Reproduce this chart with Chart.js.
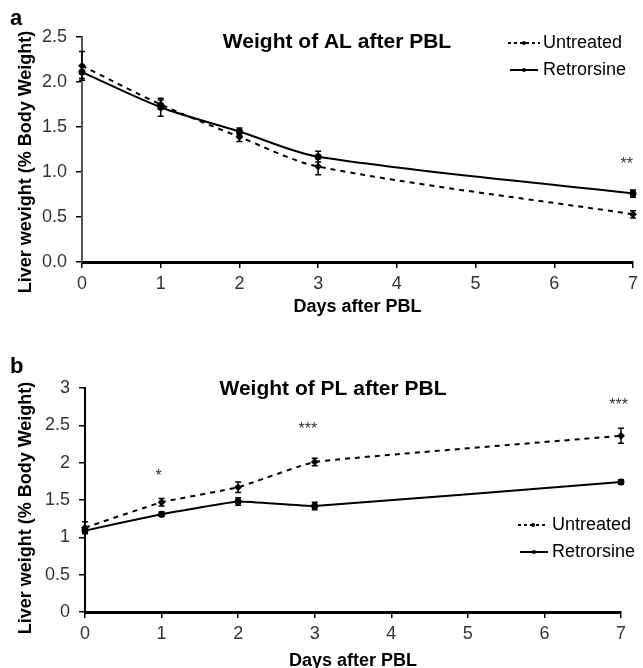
<!DOCTYPE html>
<html>
<head>
<meta charset="utf-8">
<script src="https://cdn.jsdelivr.net/npm/chart.js@4"></script>
<style>
  html, body { margin: 0; padding: 0; background: #fff; overflow: hidden; }
  #wrap { position: relative; width: 643px; height: 668px; }
  canvas { position: absolute; left: 0; }
  #chartA { top: 0; }
  #chartB { top: 320px; }
</style>
</head>
<body>
<div id="wrap">
  <canvas id="chartA" width="643" height="325"></canvas>
  <canvas id="chartB" width="643" height="360"></canvas>
</div>
<script>
// days after partial bile ligation
var days = [0, 1, 2, 3, 7];

// panel a: weight of AL
var alUntreated = [2.18, 1.75, 1.39, 1.06, 0.53];
var alUntreatedErr = [0.16, 0.05, 0.05, 0.09, 0.04];
var alRetrorsine = [2.11, 1.72, 1.45, 1.17, 0.76];
var alRetrorsineErr = [0.07, 0.1, 0.04, 0.06, 0.04];
var alStarDays = [6.92];
var alStarValues = [1.12];
var alStarText = ["**"];
var alYTicks = ["0.0", "0.5", "1.0", "1.5", "2.0", "2.5"];

// panel b: weight of PL
var plUntreated = [1.13, 1.47, 1.67, 2.01, 2.36];
var plUntreatedErr = [0.08, 0.05, 0.07, 0.05, 0.1];
var plRetrorsine = [1.09, 1.31, 1.48, 1.42, 1.74];
var plRetrorsineErr = [0.04, 0.03, 0.05, 0.05, 0.03];
var plStarDays = [0.96, 2.91, 6.97];
var plStarValues = [1.85, 2.48, 2.81];
var plStarText = ["*", "***", "***"];
var plYTicks = ["0", "0.5", "1", "1.5", "2", "2.5", "3"];

var FONT = "'Liberation Sans', Arial, sans-serif";

function points(ys) {
  return days.map(function (d, i) { return { x: d, y: ys[i] }; });
}

// error bars, stars, title, legend, panel letter, y title
var decorPlugin = {
  id: "decor",
  afterDatasetsDraw: function (chart) {
    var o = chart.options.plugins.decor;
    var ctx = chart.ctx;
    var xs = chart.scales.x, ys = chart.scales.y;
    ctx.save();
    ctx.strokeStyle = "#000";
    ctx.lineWidth = 1.5;
    o.errors.forEach(function (e) {
      days.forEach(function (d, i) {
        var px = xs.getPixelForValue(d);
        var top = ys.getPixelForValue(e.values[i] + e.err[i]);
        var bot = ys.getPixelForValue(e.values[i] - e.err[i]);
        ctx.beginPath();
        ctx.moveTo(px, top); ctx.lineTo(px, bot);
        ctx.moveTo(px - 3, top); ctx.lineTo(px + 3, top);
        ctx.moveTo(px - 3, bot); ctx.lineTo(px + 3, bot);
        ctx.stroke();
      });
    });
    // significance stars
    ctx.fillStyle = "#333";
    ctx.font = "16px " + FONT;
    ctx.textAlign = "center";
    ctx.textBaseline = "middle";
    o.starDays.forEach(function (d, i) {
      ctx.fillText(o.starText[i], xs.getPixelForValue(d), ys.getPixelForValue(o.starValues[i]) + 3);
    });
    ctx.restore();
  },
  afterDraw: function (chart) {
    var o = chart.options.plugins.decor;
    var ctx = chart.ctx;
    ctx.save();
    ctx.fillStyle = "#000";
    // panel letter
    ctx.font = "bold 22px " + FONT;
    ctx.textAlign = "left";
    ctx.textBaseline = "alphabetic";
    ctx.fillText(o.letter, o.letterX, o.letterY);
    // chart title
    ctx.font = "bold 21px " + FONT;
    ctx.textAlign = "center";
    ctx.textBaseline = "middle";
    ctx.fillText(o.title, o.titleX, o.titleY);
    // y axis title
    ctx.save();
    ctx.translate(o.yTitleX, o.yTitleY);
    ctx.rotate(-Math.PI / 2);
    ctx.font = "bold 18px " + FONT;
    ctx.textAlign = "center";
    ctx.textBaseline = "alphabetic";
    ctx.fillText(o.yTitle, 0, 0);
    ctx.restore();
    // legend
    ctx.font = "18px " + FONT;
    ctx.textAlign = "left";
    ctx.textBaseline = "middle";
    o.legend.forEach(function (l) {
      ctx.strokeStyle = "#000";
      ctx.lineWidth = 2;
      ctx.setLineDash(l.dash);
      ctx.beginPath();
      ctx.moveTo(l.x1, l.y); ctx.lineTo(l.x2, l.y);
      ctx.stroke();
      ctx.setLineDash([]);
      ctx.beginPath();
      ctx.arc((l.x1 + l.x2) / 2, l.y, 2, 0, Math.PI * 2);
      ctx.fill();
      ctx.fillText(l.label, l.tx, l.y);
    });
    ctx.restore();
  }
};

function makeChart(id, cfg) {
  var ctx = document.getElementById(id).getContext("2d");
  return new Chart(ctx, {
    type: "line",
    data: {
      datasets: [
        {
          label: "Untreated",
          data: points(cfg.untreated),
          borderColor: "#000",
          backgroundColor: "#000",
          borderWidth: 2,
          borderDash: [5, 5],
          pointStyle: "rectRot",
          pointRadius: 2.5,
          tension: cfg.tension,
          clip: false
        },
        {
          label: "Retrorsine",
          data: points(cfg.retrorsine),
          borderColor: "#000",
          backgroundColor: "#000",
          borderWidth: 2,
          pointStyle: "circle",
          pointRadius: 2.5,
          tension: cfg.tension,
          clip: false
        }
      ]
    },
    options: {
      responsive: false,
      animation: false,
      layout: { padding: cfg.padding },
      plugins: {
        legend: { display: false },
        tooltip: { enabled: false },
        decor: cfg.decor
      },
      scales: {
        x: {
          type: "linear",
          min: 0,
          max: 7,
          afterFit: function (s) { s.height = cfg.xHeight; },
          ticks: { stepSize: 1, color: "#333", padding: 5, font: { family: FONT, size: 18 } },
          grid: { drawOnChartArea: false, color: "#000", tickLength: 6, lineWidth: 1.5 },
          border: { color: "#000", width: 3 },
          title: {
            display: true,
            text: "Days after PBL",
            color: "#000",
            font: { family: FONT, size: 18, weight: "bold" },
            padding: { top: 0, bottom: cfg.xTitlePad }
          }
        },
        y: {
          min: 0,
          max: cfg.yMax,
          afterFit: function (s) { s.width = cfg.yWidth; },
          ticks: {
            stepSize: 0.5,
            color: "#333",
            padding: 9,
            font: { family: FONT, size: 18 },
            callback: function (v, i) { return cfg.yTicks[i]; }
          },
          grid: { drawOnChartArea: false, color: "#000", tickLength: 6, lineWidth: 1.5 },
          border: { color: cfg.yAxisColor, width: 2 }
        }
      }
    },
    plugins: [decorPlugin]
  });
}

makeChart("chartA", {
  untreated: alUntreated,
  retrorsine: alRetrorsine,
  tension: 0.3,
  yMax: 2.5,
  yTicks: alYTicks,
  yWidth: 82,
  xHeight: 63,
  xTitlePad: 7,
  yAxisColor: "#555",
  padding: { top: 37, right: 5, left: 0, bottom: 0 },
  decor: {
    errors: [
      { values: alUntreated, err: alUntreatedErr },
      { values: alRetrorsine, err: alRetrorsineErr }
    ],
    starDays: alStarDays,
    starValues: alStarValues,
    starText: alStarText,
    letter: "a", letterX: 10, letterY: 25,
    title: "Weight of AL after PBL", titleX: 337, titleY: 42,
    yTitle: "Liver wevight (% Body Weight)", yTitleX: 31, yTitleY: 162,
    legend: [
      { label: "Untreated", dash: [3, 3], x1: 508, x2: 540, y: 43, tx: 543 },
      { label: "Retrorsine", dash: [], x1: 510, x2: 538, y: 70, tx: 543 }
    ]
  }
});

makeChart("chartB", {
  untreated: plUntreated,
  retrorsine: plRetrorsine,
  tension: 0.1,
  yMax: 3,
  yTicks: plYTicks,
  yWidth: 85,
  xHeight: 68,
  xTitlePad: 8,
  yAxisColor: "#000",
  padding: { top: 68, right: 22, left: 0, bottom: 0 },
  decor: {
    errors: [
      { values: plUntreated, err: plUntreatedErr },
      { values: plRetrorsine, err: plRetrorsineErr }
    ],
    starDays: plStarDays,
    starValues: plStarValues,
    starText: plStarText,
    letter: "b", letterX: 10, letterY: 53,
    title: "Weight of PL after PBL", titleX: 333, titleY: 69,
    yTitle: "Liver weight (% Body Weight)", yTitleX: 31, yTitleY: 188,
    legend: [
      { label: "Untreated", dash: [3, 3], x1: 518, x2: 548, y: 205, tx: 552 },
      { label: "Retrorsine", dash: [], x1: 520, x2: 548, y: 232, tx: 552 }
    ]
  }
});
</script>
</body>
</html>
